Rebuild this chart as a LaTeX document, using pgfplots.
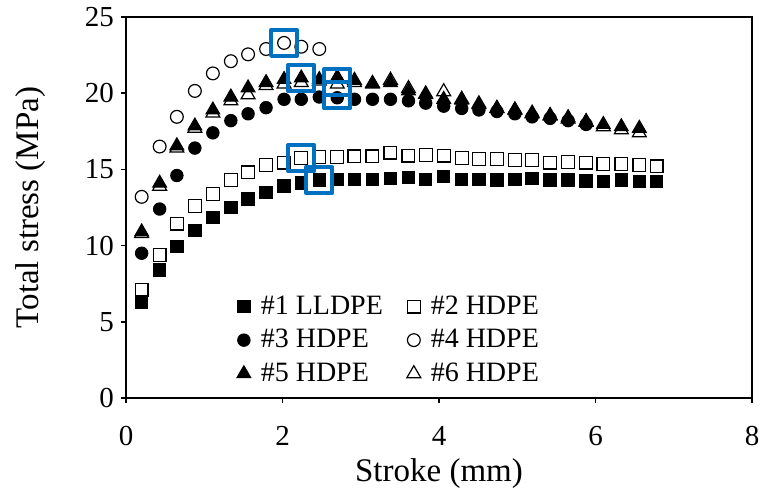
\documentclass[border=0pt]{standalone}
\usepackage{fontspec}
\setmainfont{Liberation Serif}
\usepackage{pgfplots}
\usepackage{pgfplotstable}
\pgfplotsset{compat=1.18}
\definecolor{boxblue}{RGB}{0,112,192}

\pgfplotstableread{
x y
0.20 6.3
0.43 8.4
0.65 9.95
0.88 11.0
1.11 11.85
1.34 12.5
1.56 13.05
1.79 13.5
2.02 13.9
2.24 14.1
2.47 14.3
2.70 14.35
2.92 14.35
3.15 14.35
3.38 14.4
3.61 14.45
3.83 14.35
4.06 14.55
4.29 14.35
4.51 14.35
4.74 14.3
4.97 14.35
5.19 14.4
5.42 14.3
5.65 14.3
5.88 14.25
6.10 14.2
6.33 14.3
6.56 14.2
6.78 14.2
}\sone

\pgfplotstableread{
x y
0.20 7.1
0.43 9.4
0.65 11.45
0.88 12.6
1.11 13.4
1.34 14.3
1.56 14.8
1.79 15.3
2.02 15.45
2.24 15.75
2.47 15.8
2.70 15.8
2.92 15.85
3.15 15.85
3.38 16.1
3.61 15.9
3.83 15.95
4.06 15.9
4.29 15.75
4.51 15.7
4.74 15.7
4.97 15.6
5.19 15.6
5.42 15.45
5.65 15.5
5.88 15.45
6.10 15.35
6.33 15.35
6.56 15.3
6.78 15.2
}\stwo

\pgfplotstableread{
x y
0.20 9.5
0.43 12.4
0.65 14.6
0.88 16.4
1.11 17.4
1.34 18.2
1.56 18.65
1.79 19.05
2.02 19.6
2.24 19.6
2.47 19.75
2.70 19.7
2.92 19.6
3.15 19.6
3.38 19.6
3.61 19.5
3.83 19.35
4.06 19.15
4.29 19.0
4.51 18.9
4.74 18.8
4.97 18.65
5.19 18.45
5.42 18.35
5.65 18.2
5.88 17.95
}\sthree

\pgfplotstableread{
x y
0.20 13.2
0.43 16.5
0.65 18.45
0.88 20.15
1.11 21.3
1.34 22.1
1.56 22.55
1.79 22.9
2.02 23.3
2.24 23.05
2.47 22.9
}\sfour

\pgfplotstableread{
x y
0.20 10.9
0.43 14.1
0.65 16.55
0.88 17.85
1.11 18.9
1.34 19.75
1.56 20.35
1.79 20.7
2.02 20.9
2.24 21.0
2.47 20.9
2.70 21.05
2.92 20.85
3.15 20.65
3.38 20.7
3.61 20.15
3.83 19.9
4.06 19.6
4.29 19.55
4.51 19.25
4.74 19.0
4.97 18.9
5.19 18.7
5.42 18.55
5.65 18.4
5.88 18.15
6.10 17.95
6.33 17.8
6.56 17.7
}\sfive

\pgfplotstableread{
x y
0.20 10.8
0.43 13.9
0.65 16.4
0.88 17.7
1.11 18.7
1.34 19.5
1.56 19.9
1.79 20.5
2.02 20.6
2.24 20.7
2.47 20.8
2.70 20.6
2.92 20.7
3.15 20.6
3.38 20.85
3.61 20.3
3.83 19.95
4.06 20.1
4.29 19.6
4.51 19.3
4.74 19.0
4.97 18.9
5.19 18.65
5.42 18.5
5.65 18.3
5.88 18.1
6.10 17.8
6.33 17.6
6.56 17.4
}\ssix

\pgfplotstableread{
x y
2.02 23.3
2.24 21.0
2.70 20.75
2.70 19.85
2.24 15.75
2.47 14.3
}\sboxes

\begin{document}
\begin{tikzpicture}
\begin{axis}[
  scale only axis, width=313pt, height=190.5pt,
  xmin=0, xmax=8, ymin=0, ymax=25,
  xtick={0,2,4,6,8}, ytick={0,5,10,15,20,25},
  tick align=outside, xtick pos=bottom, ytick pos=left,
  major tick length=2.5pt,
  axis line style={line width=0.8pt},
  tick style={line width=0.8pt, black},
  /pgf/number format/assume math mode=true,
  ticklabel style={font=\fontsize{14.5}{16}\selectfont},
  xticklabel style={yshift=-8pt},
  xlabel={Stroke (mm)}, ylabel={Total stress (MPa)},
  label style={font=\fontsize{16.5}{19}\selectfont},
  xlabel style={at={(axis description cs:0.5,-0.198)}, anchor=center},
  ylabel style={at={(axis description cs:-0.153,0.5)}, anchor=center},
  legend columns=2,
  legend cell align=left,
  legend image code/.code={\draw[#1] plot coordinates {(0pt,0pt)};},
  legend style={draw=none, fill=none, at={(axis description cs:0.167,0.285)}, anchor=north west,
    font=\fontsize{14}{16}\selectfont, nodes={inner sep=1pt},
    row sep=4pt,
    /tikz/every odd column/.append style={column sep=4pt},
    /tikz/every even column/.append style={column sep=11pt}},
]
\addplot[only marks, black, mark=square*, mark size=3.1pt, mark options={fill=black, line width=0.5pt}] table {\sone};
\addlegendentry{\#1 LLDPE}
\addplot[only marks, black, mark=square, mark size=3.2pt, mark options={line width=0.6pt}] table {\stwo};
\addlegendentry{\#2 HDPE}
\addplot[only marks, black, mark=*, mark size=3.1pt, mark options={fill=black, line width=0.5pt}] table {\sthree};
\addlegendentry{\#3 HDPE}
\addplot[only marks, black, mark=o, mark size=3.2pt, mark options={line width=0.6pt}] table {\sfour};
\addlegendentry{\#4 HDPE}
\addplot[only marks, black, mark=triangle*, mark size=4pt, mark options={fill=black, line width=0.5pt}] table {\sfive};
\addlegendentry{\#5 HDPE}
\addplot[only marks, black, mark=triangle, mark size=4pt, mark options={line width=0.6pt}] table {\ssix};
\addlegendentry{\#6 HDPE}
\addplot[only marks, boxblue, mark=square, mark size=6.5pt, mark options={line width=2pt, line join=round}, forget plot] table {\sboxes};
\coordinate (sw) at (rel axis cs:0,0);
\coordinate (ne) at (rel axis cs:1,1);
\end{axis}
\pgfresetboundingbox
\path[use as bounding box] ([shift={(-63pt,-50.5pt)}]sw) rectangle ([shift={(5.5pt,8.5pt)}]ne);
\end{tikzpicture}
\end{document}
